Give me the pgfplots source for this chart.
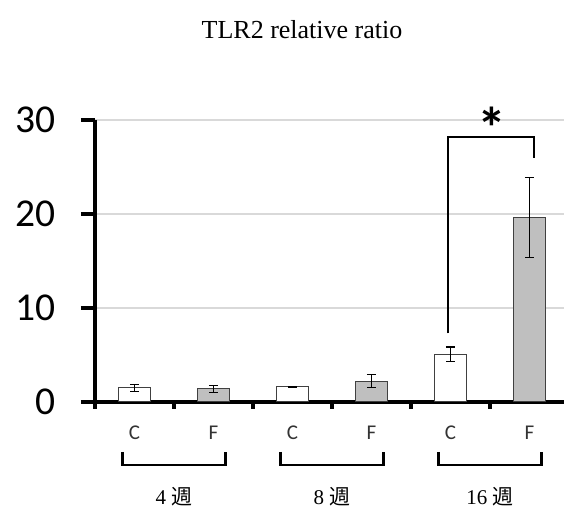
\documentclass[border=0pt]{standalone}
\usepackage{fontspec}
\setmainfont{Liberation Serif}
\newfontfamily\calibri{Carlito}
\newfontfamily\cjk{Noto Sans CJK JP}
\usepackage{pgfplots}
\pgfplotsset{compat=1.18}
\definecolor{barfill}{HTML}{BFBFBF}
\definecolor{gridgray}{HTML}{D9D9D9}
\begin{document}
\begin{tikzpicture}
\useasboundingbox (0,0) rectangle (564bp,515bp);
\node[font=\fontsize{26bp}{28bp}\selectfont] at (302bp,485bp) {TLR2 relative ratio};
\begin{axis}[
  at={(95bp,113bp)}, anchor=south west,
  scale only axis, width=469bp, height=282bp,
  xmin=0.5, xmax=6.437, ymin=0, ymax=30,
  axis lines*=left,
  axis line style={line width=4.5bp, black},
  ytick={0,10,20,30},
  xtick={0.5,1.5,2.5,3.5,4.5,5.5},
  xticklabels={},
  tick align=outside,
  ytick style={line width=3.5bp, black, /pgfplots/major tick length=14bp},
  xtick style={line width=3.5bp, black, /pgfplots/major tick length=7bp},
  ymajorgrids,
  major grid style={gridgray, line width=1.3bp},
  yticklabel style={font=\calibri\fontsize{39.5bp}{40bp}\selectfont, xshift=-32bp},
  /pgf/number format/assume math mode=true,
  clip=false,
]
% C bars (white)
\addplot[ybar, bar width=0.405, bar shift=0pt, fill=white, draw=black!75, line width=1bp,
  error bars/.cd, y dir=both, y explicit,
  error bar style={black, line width=1.1bp},
  error mark options={rotate=90, mark size=4.5bp, black, line width=1.1bp}]
  coordinates {(1,1.5) +- (0,0.35) (3,1.6) +- (0,0.05) (5,5.1) +- (0,0.75)};
% F bars (gray)
\addplot[ybar, bar width=0.405, bar shift=0pt, fill=barfill, draw=black!75, line width=1bp,
  error bars/.cd, y dir=both, y explicit,
  error bar style={black, line width=1.1bp},
  error mark options={rotate=90, mark size=4.5bp, black, line width=1.1bp}]
  coordinates {(2,1.4) +- (0,0.35) (4,2.2) +- (0,0.7) (6,19.6) +- (0,4.25)};

% significance bracket
\draw[line width=2.2bp] (4.97,7.3) -- (4.97,28.2) -- (6.06,28.2) -- (6.06,26.0);
\node[font=\calibri\bfseries\fontsize{58bp}{58bp}\selectfont, inner sep=0pt] at (5.53,29.2) {*};

% C / F labels
\node[font=\calibri\fontsize{21bp}{21bp}\selectfont, text=black!80] at (1,-3.3) {C};
\node[font=\calibri\fontsize{21bp}{21bp}\selectfont, text=black!80] at (2,-3.3) {F};
\node[font=\calibri\fontsize{21bp}{21bp}\selectfont, text=black!80] at (3,-3.3) {C};
\node[font=\calibri\fontsize{21bp}{21bp}\selectfont, text=black!80] at (4,-3.3) {F};
\node[font=\calibri\fontsize{21bp}{21bp}\selectfont, text=black!80] at (5,-3.3) {C};
\node[font=\calibri\fontsize{21bp}{21bp}\selectfont, text=black!80] at (6,-3.3) {F};

% group brackets
\draw[line width=2.6bp] (0.85,-5.3) -- (0.85,-6.7) -- (2.15,-6.7) -- (2.15,-5.3);
\draw[line width=2.6bp] (2.85,-5.3) -- (2.85,-6.7) -- (4.15,-6.7) -- (4.15,-5.3);
\draw[line width=2.6bp] (4.85,-5.3) -- (4.85,-6.7) -- (6.15,-6.7) -- (6.15,-5.3);

% group labels
\node[font=\fontsize{21bp}{21bp}\selectfont] at (1.5,-10.1) {4 {\cjk 週}};
\node[font=\fontsize{21bp}{21bp}\selectfont] at (3.5,-10.1) {8 {\cjk 週}};
\node[font=\fontsize{21bp}{21bp}\selectfont] at (5.5,-10.1) {16 {\cjk 週}};
\end{axis}
\end{tikzpicture}
\end{document}
